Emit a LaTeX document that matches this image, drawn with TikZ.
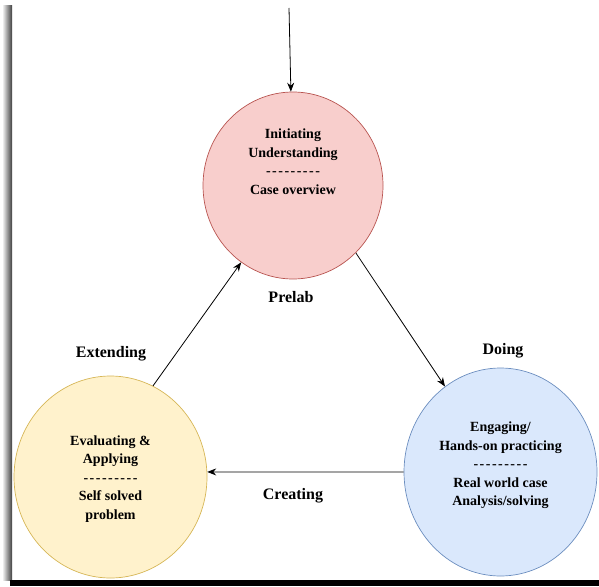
\documentclass[tikz,border=0pt]{standalone}
\usepackage{fontspec}
\setmainfont{Liberation Serif}
\usetikzlibrary{arrows.meta,shapes.geometric}

\definecolor{pinkfill}{HTML}{F8CECC}
\definecolor{pinkline}{HTML}{B85450}
\definecolor{yellowfill}{HTML}{FFF2CC}
\definecolor{yellowline}{HTML}{D6B656}
\definecolor{bluefill}{HTML}{DAE8FC}
\definecolor{blueline}{HTML}{6C8EBF}

\newcommand{\dashrow}{-\kern1.5pt-\kern1.5pt-\kern1.5pt-\kern1.5pt-\kern1.5pt-\kern1.5pt-\kern1.5pt-\kern1.5pt-}

\begin{document}
\begin{tikzpicture}[x=1pt, y=-1pt,
    phase/.style={ellipse, draw, line width=0.7pt, inner sep=0pt},
    phasetext/.style={font=\bfseries\fontsize{14}{18.5}\selectfont, align=center},
    steplabel/.style={font=\bfseries\fontsize{16}{19}\selectfont},
    flow/.style={-{Stealth[length=9pt, width=7pt, inset=3pt]}, line width=0.8pt}]

    \useasboundingbox (0,0) rectangle (599,586);

    % Page edge
    \shade[left color=white, right color=black!75] (2,6) rectangle (12,580);
    \fill[black] (10,580) rectangle (599,586);

    % Circles
    \node[phase, fill=pinkfill, draw=pinkline, minimum width=180pt, minimum height=187pt] (init) at (293,185.5) {};
    \node[phase, fill=yellowfill, draw=yellowline, minimum width=193pt, minimum height=202pt] (evaluate) at (110.5,477) {};
    \node[phase, fill=bluefill, draw=blueline, minimum width=193pt, minimum height=208pt] (engage) at (500.5,472) {};

    % Texts inside the circles
    \node[phasetext] (inittext) at (293,161.5) {Initiating\\Understanding\\\dashrow\\Case overview};
    \node[phasetext] (evaluatetext) at (110.5,479) {Evaluating \&\\Applying\\\dashrow\\Self solved\\problem};
    \node[phasetext] (engagetext) at (500.5,465.5) {Engaging/\\Hands-on practicing\\\dashrow\\Real world case\\Analysis/solving};

    % Stage labels
    \node[steplabel] (prelab) at (291,297) {Prelab};
    \node[steplabel] (doing) at (503,351) {Doing};
    \node[steplabel] (creating) at (293,496) {Creating};
    \node[steplabel] (extending) at (111,354) {Extending};

    % Cycle arrows
    \coordinate (entry) at (289,8);
    \draw[flow] (entry) -- (init);
    \draw[flow] (init.-47) -- (engage.123);
    \draw[flow] (engage.west) -- (evaluate.3);
    \draw[flow] (evaluate.65) -- (init.236);

\end{tikzpicture}
\end{document}
